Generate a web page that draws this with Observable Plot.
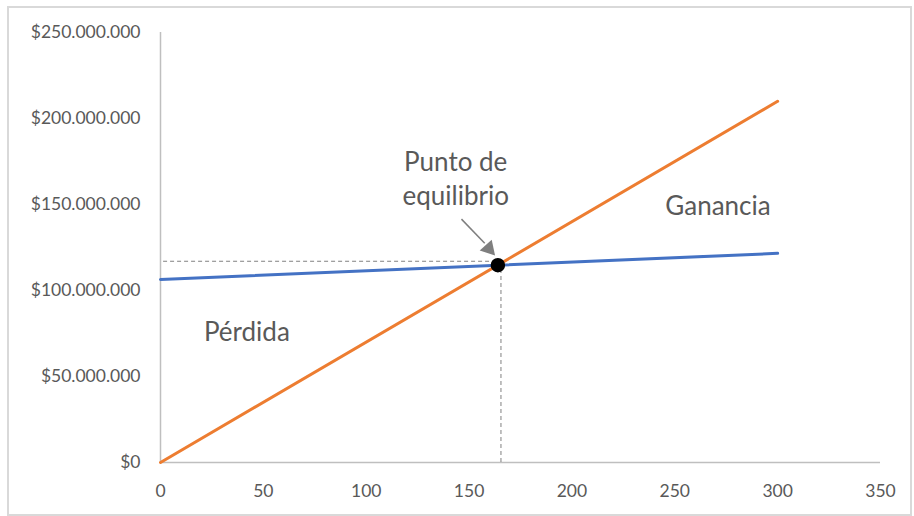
<!DOCTYPE html>
<html>
<head>
<meta charset="utf-8">
<script src="https://cdn.jsdelivr.net/npm/d3@7"></script>
<script src="https://cdn.jsdelivr.net/npm/@observablehq/plot@0.6"></script>
<style>
  html, body { margin: 0; padding: 0; background: #fff; }
  #wrap { position: relative; width: 914px; height: 516px; }
  #border { position: absolute; left: 7px; top: 6px; width: 901px; height: 506px;
            border: 2px solid #d9d9d9; pointer-events: none; }
</style>
</head>
<body>
<div id="wrap"><div id="border"></div></div>
<script>
// Units sold and the two straight lines (income and total cost)
const unidades = [0, 300];
const ingresos = [0, 210e6];
const costos = [106.4e6, 121.6e6];

// Break-even point and its guide lines
const equilibrio = { x: 164, y: 114.7e6 };
const guia = { x: 165.5, y: 117e6 };

// Axis ticks
const xTicks = [0, 50, 100, 150, 200, 250, 300, 350];
const yTicks = [0, 50e6, 100e6, 150e6, 200e6, 250e6];

// Text annotations
const etiquetas = [
  { x: 143.5, y: 166e6, text: "Punto de\nequilibrio" },
  { x: 271, y: 150.5e6, text: "Ganancia" },
  { x: 42, y: 77e6, text: "Pérdida" }
];
const flecha = { x1: 146.3, y1: 141.5e6, x2: 157.6, y2: 127.5e6, tipX: 159.6, tipY: 124.4e6 };

const money = d => "$" + d3.format(",")(d).replace(/,/g, ".");

const lineData = unidades.map((u, i) => ({ u, ingreso: ingresos[i], costo: costos[i] }));

const font = "Lato, 'Open Sans', sans-serif";
const gray = "#595959";

const chart = Plot.plot({
  width: 914,
  height: 516,
  marginLeft: 160,
  marginRight: 34,
  marginTop: 32,
  marginBottom: 54,
  style: { fontFamily: font, fontSize: "17.5px", color: gray, background: "transparent" },
  x: { domain: [0, 350], ticks: xTicks, tickSize: 0, tickPadding: 22, label: null },
  y: { domain: [0, 250e6], ticks: yTicks, tickSize: 0, tickPadding: 20, tickFormat: money, label: null },
  marks: [
    Plot.ruleX([0], { y1: 0, y2: 250e6, stroke: "#bfbfbf", strokeWidth: 1.5 }),
    Plot.ruleY([0], { x1: 0, x2: 350, stroke: "#bfbfbf", strokeWidth: 1.5 }),
    // dashed guides to the break-even point
    Plot.ruleY([guia.y], { x1: 1.5, x2: equilibrio.x, stroke: "#808080", strokeWidth: 1, strokeDasharray: "4,3" }),
    Plot.ruleX([guia.x], { y1: 0, y2: equilibrio.y, stroke: "#808080", strokeWidth: 1, strokeDasharray: "4,3" }),
    Plot.line(lineData, { x: "u", y: "costo", stroke: "#4472C4", strokeWidth: 3 }),
    Plot.line(lineData, { x: "u", y: "ingreso", stroke: "#ED7D31", strokeWidth: 3 }),
    Plot.dot([equilibrio], { x: "x", y: "y", r: 6.5, fill: "black", stroke: "black" }),
    // arrow pointing at the break-even point
    Plot.link([flecha], { x1: "x1", y1: "y1", x2: "x2", y2: "y2", stroke: "#7f7f7f", strokeWidth: 1.5 }),
    Plot.dot([flecha], { x: "tipX", y: "tipY", symbol: "triangle", r: 6, fill: "#7f7f7f", rotate: 138 }),
    Plot.text(etiquetas, { x: "x", y: "y", text: "text", fontSize: 26, fill: gray, lineHeight: 1.32, lineAnchor: "middle" })
  ]
});
document.getElementById("wrap").prepend(chart);
</script>
</body>
</html>
